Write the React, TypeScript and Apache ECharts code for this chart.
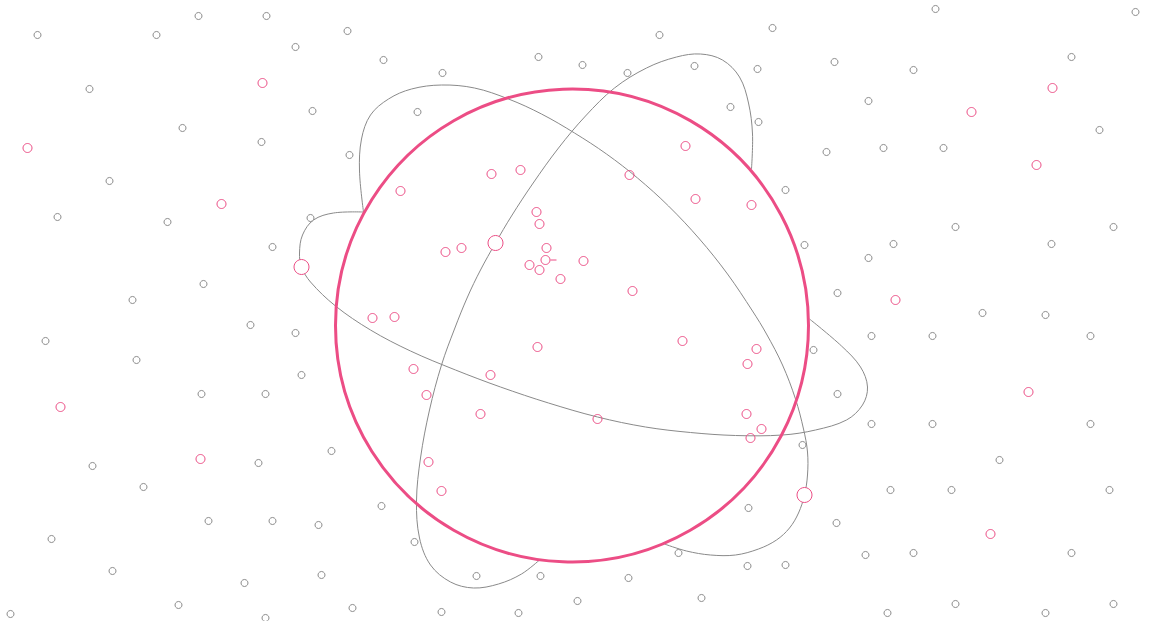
import React, { useEffect, useRef } from "react";
import * as echarts from "echarts";

const W = 1172;
const H = 621;

const grayDots: number[][] = [
  [37, 34], [156, 34], [198, 15], [266, 15], [295, 46], [347, 30], [89, 88], [182, 127],
  [261, 141], [312, 110], [383, 59], [417, 111], [442, 72], [109, 180], [57, 216], [167, 221],
  [310, 217], [349, 154], [272, 246], [203, 283], [132, 299], [250, 324], [295, 332], [45, 340],
  [136, 359], [301, 374], [201, 393], [265, 393], [92, 465], [258, 462], [331, 450], [143, 486],
  [208, 520], [272, 520], [318, 524], [51, 538], [112, 570], [244, 582], [178, 604], [10, 613],
  [265, 617], [352, 607], [321, 574], [381, 505], [414, 541],
  [538, 56], [582, 64], [627, 72], [659, 34], [694, 65], [772, 27], [757, 68], [730, 106], [758, 121],
  [935, 8], [1135, 11], [834, 61], [913, 69], [1071, 56], [868, 100], [1099, 129], [826, 151],
  [883, 147], [943, 147], [785, 189], [955, 226], [1113, 226], [804, 244], [893, 243], [1051, 243],
  [868, 257], [837, 292],
  [871, 335], [932, 335], [1090, 335], [982, 312], [1045, 314], [813, 349], [837, 393], [871, 423],
  [932, 423], [1090, 423], [802, 444], [999, 459], [890, 489], [951, 489], [1109, 489], [836, 522],
  [865, 554], [913, 552], [1071, 552], [785, 564], [955, 603], [1113, 603], [887, 612], [1045, 612],
  [748, 507], [678, 552], [747, 565], [476, 575], [540, 575], [628, 577], [577, 600], [701, 597],
  [441, 611], [518, 612]
];

const pinkDots: number[][] = [
  [262, 82], [27, 147], [221, 203], [60, 406], [200, 458],
  [1052, 87], [971, 111], [1036, 164], [895, 299], [1028, 391], [990, 533],
  [685, 145], [400, 190], [491, 173], [520, 169], [629, 174], [695, 198], [751, 204], [536, 211],
  [539, 223], [445, 251], [461, 247], [546, 247], [545, 259], [529, 264], [539, 269], [583, 260],
  [560, 278], [632, 290], [372, 317], [394, 316], [537, 346], [413, 368], [490, 374], [426, 394],
  [480, 413], [597, 418], [682, 340], [756, 348], [747, 363], [746, 413], [761, 428], [750, 437],
  [428, 461], [441, 490]
];

const bigDots: number[][] = [[301, 266], [495, 242], [804, 494]];

const nucleus: number[][] = [[571.5, 324.5]];

const tick: number[][] = [[550, 259], [556, 259]];

const orbitA: number[][] = [
  [363, 211], [359, 170], [361, 138], [370, 114], [388, 98], [411, 88], [441, 84], [474, 87],
  [508, 98], [541, 113], [574, 132], [606, 153], [637, 177], [668, 205], [699, 238], [727, 273],
  [752, 310], [766, 333], [782, 364], [795, 398], [803, 428], [807, 451], [807, 474], [804, 494],
  [798, 512], [789, 527], [776, 539], [758, 548], [735, 554], [710, 554], [686, 550], [664, 543]
];

const orbitB: number[][] = [
  [363, 211], [333, 212], [313, 219], [302, 234], [299, 252], [301, 266], [310, 281], [335, 305],
  [370, 329], [410, 350], [455, 369], [500, 386], [548, 402], [597, 416], [645, 426], [690, 431.5],
  [735, 434.5], [782, 434], [815, 429], [846, 419], [862, 404], [867, 386], [860, 366], [841, 345],
  [809, 318]
];

const orbitC: number[][] = [
  [751, 168], [752, 133], [748, 102], [739, 76], [722, 59], [700, 53], [676, 56], [646, 67],
  [614, 87], [585, 115], [558, 147], [532, 183], [511, 215], [495, 242], [480, 269], [467, 296],
  [454, 328], [441, 364], [429, 409], [420, 457], [416, 500], [419, 537], [430, 564], [450, 581],
  [473, 587], [498, 583], [521, 573], [539, 559]
];

const orbits: number[][][] = [orbitA, orbitB, orbitC];

const GRAY = "#8a8a8a";
const PINK = "#ec4d85";

export default function App() {
  const ref = useRef<HTMLDivElement>(null);
  useEffect(() => {
    if (!ref.current) return;
    const chart = echarts.init(ref.current, null, { renderer: "svg" });
    chart.setOption({
      animation: false,
      backgroundColor: "#ffffff",
      grid: { left: 0, right: 0, top: 0, bottom: 0 },
      xAxis: { type: "value", min: -0.5, max: W - 0.5, show: false },
      yAxis: { type: "value", min: -1, max: H - 1, inverse: true, show: false },
      series: [
        {
          type: "custom",
          silent: true,
          data: orbits.map((o, i) => [o[0][0], o[0][1], i]),
          renderItem: (params: any, api: any) => {
            const idx = api.value(2);
            const pts = orbits[idx].map((p) => api.coord(p));
            return {
              type: "polyline",
              shape: { points: pts, smooth: 0.35 },
              style: { stroke: GRAY, lineWidth: 1, fill: null },
            };
          },
          z: 1,
        },
        {
          type: "scatter",
          data: nucleus,
          symbol: "circle",
          symbolSize: 473,
          silent: true,
          itemStyle: { color: "rgba(0,0,0,0)", borderColor: PINK, borderWidth: 3, opacity: 1 },
          z: 2,
        },
        {
          type: "line",
          data: tick,
          showSymbol: false,
          symbol: "none",
          lineStyle: { color: PINK, width: 1 },
          z: 3,
        },
        {
          type: "scatter",
          data: grayDots,
          symbol: "circle",
          symbolSize: 7,
          itemStyle: { color: "#ffffff", borderColor: GRAY, borderWidth: 1, opacity: 1 },
          z: 3,
        },
        {
          type: "scatter",
          data: pinkDots,
          symbol: "circle",
          symbolSize: 9,
          itemStyle: { color: "rgba(255,255,255,0)", borderColor: PINK, borderWidth: 1, opacity: 1 },
          z: 3,
        },
        {
          type: "scatter",
          data: bigDots,
          symbol: "circle",
          symbolSize: 15,
          itemStyle: { color: "#ffffff", borderColor: PINK, borderWidth: 1, opacity: 1 },
          z: 4,
        },
      ],
    });
    return () => chart.dispose();
  }, []);
  return (
    <div
      ref={ref}
      style={{ position: "absolute", left: 0, top: 0, width: W, height: H }}
    />
  );
}
